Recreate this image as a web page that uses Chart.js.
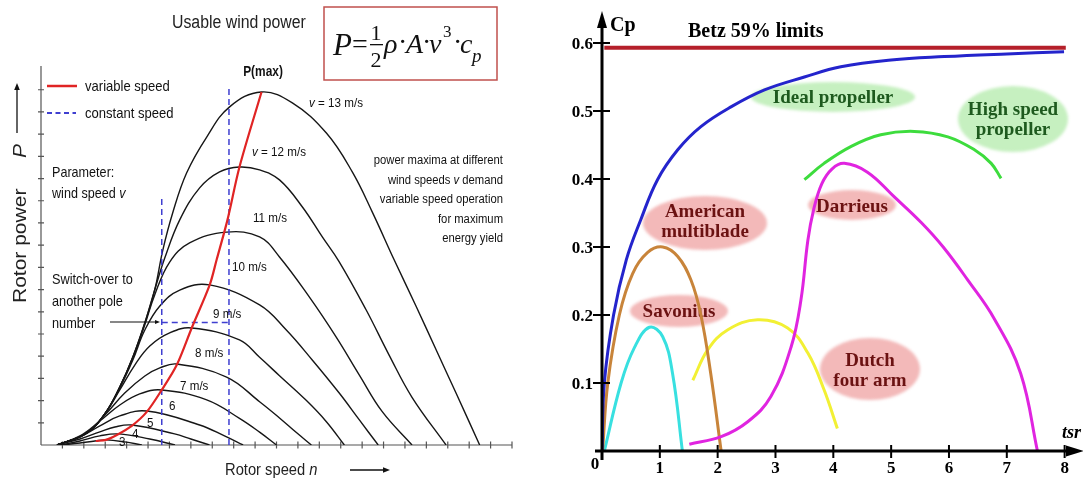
<!DOCTYPE html>
<html>
<head>
<meta charset="utf-8">
<script src="https://cdn.jsdelivr.net/npm/chart.js@4.4.1/dist/chart.umd.min.js"></script>
<style>
  body { margin: 0; background: #fff; }
  canvas { position: absolute; top: 0; }
  #rotorChart { left: 0; }
  #cpChart { left: 550px; }
</style>
</head>
<body>
<canvas id="rotorChart" width="550" height="482"></canvas>
<canvas id="cpChart" width="533" height="482"></canvas>
<script>
// ---- left chart: rotor power vs rotor speed (axis units = tick steps) ----
const rotorSpeedTicks = [1, 2, 3, 4, 5, 6, 7, 8, 9, 10, 11, 12, 13, 14, 15, 16, 17, 18, 19, 20, 21, 22]
const rotorPowerTicks = [1, 2, 3, 4, 5, 6, 7, 8, 9, 10, 11, 12, 13, 14, 15, 16]
const windSpeeds = ["3", "4", "5", "6", "7 m/s", "8 m/s", "9 m/s", "10 m/s", "11 m/s", "12 m/s", "13 m/s"]

const powerV3 = [[0.98, 0], [1.82, 0.09], [2.52, 0.18], [3.03, 0.23], [3.91, 0.14], [4.71, 0]]
const powerV4 = [[0.89, 0], [1.82, 0.18], [2.75, 0.41], [3.63, 0.5], [5.08, 0.27], [6.26, 0]]
const powerV5 = [[0.75, 0], [1.82, 0.27], [2.75, 0.59], [3.45, 0.81], [4.24, 0.9], [6.24, 0.5], [7.0, 0.27], [7.87, 0]]
const powerV6 = [[0.75, 0], [1.82, 0.36], [2.75, 0.86], [3.68, 1.31], [4.94, 1.53], [7.41, 0.9], [8.57, 0.41], [9.44, 0]]
const powerV7 = [[0.75, 0], [1.82, 0.41], [2.75, 1.08], [3.68, 1.8], [4.61, 2.3], [5.64, 2.48], [7.74, 2.03], [9.27, 1.2], [10.21, 0.58], [11.0, 0]]
const powerV8 = [[0.75, 0], [2.05, 0.5], [2.98, 1.35], [3.91, 2.34], [4.85, 3.11], [5.55, 3.47], [6.34, 3.65], [8.67, 3.06], [10.21, 1.95], [11.14, 1.22], [11.93, 0.56], [12.63, 0]]
const powerV9 = [[0.75, 0], [2.14, 0.54], [2.98, 1.4], [3.68, 2.48], [4.38, 3.6], [5.08, 4.46], [6.01, 5.05], [7.04, 5.27], [9.27, 4.73], [10.21, 3.95], [11.14, 3.12], [12.4, 2.0], [13.33, 1.05], [14.17, 0]]
const powerV10 = [[0.75, 0], [2.14, 0.54], [2.98, 1.4], [3.68, 2.57], [4.29, 3.83], [4.85, 5.18], [5.55, 6.26], [6.48, 6.98], [7.88, 7.21], [10.21, 6.31], [11.46, 5.18], [12.67, 3.83], [13.93, 2.34], [14.87, 1.13], [15.75, 0]]
const powerV11 = [[0.75, 0], [2.14, 0.54], [2.98, 1.4], [3.68, 2.61], [4.29, 3.92], [4.85, 5.41], [5.31, 6.76], [6.01, 8.24], [6.94, 9.1], [8.67, 9.59], [10.21, 9.37], [11.14, 8.47], [12.53, 6.67], [13.79, 4.86], [14.87, 3.15], [15.94, 1.5], [17.33, 0]]
const powerV12 = [[0.75, 0], [2.14, 0.54], [2.98, 1.4], [3.68, 2.61], [4.29, 3.96], [4.85, 5.5], [5.31, 6.98], [5.78, 8.42], [6.48, 10.14], [7.41, 11.58], [8.34, 12.3], [9.27, 12.52], [10.21, 12.39], [11.14, 11.94], [12.21, 10.72], [13.14, 9.37], [13.93, 8.25], [15.19, 6.08], [16.26, 4.05], [17.33, 2.15], [18.92, 0]]
const powerV13 = [[0.75, 0], [2.14, 0.54], [2.98, 1.4], [3.68, 2.61], [4.29, 3.96], [4.85, 5.5], [5.31, 6.98], [5.69, 8.78], [6.15, 10.45], [6.8, 12.25], [7.74, 13.87], [8.81, 15.23], [10.3, 15.9], [11.74, 15.41], [13.33, 14.05], [14.54, 12.3], [15.47, 10.5], [16.5, 8.33], [17.52, 6.25], [18.45, 4.3], [19.38, 2.35], [20.49, 0]]

const variableSpeed = [[2.56, 0.18], [3.03, 0.23], [3.54, 0.45], [4.24, 0.86], [4.94, 1.49], [5.64, 2.48], [6.34, 3.6], [7.04, 5.27], [7.88, 7.21], [8.2, 8.33], [8.71, 10.14], [9.27, 12.52], [10.3, 15.9]]
const constantSpeedHigh = [[8.78, 0], [8.78, 16.13]]
const constantSpeedLow = [[5.64, 0], [5.64, 11.26]]
const poleSwitch = [[5.64, 5.52], [8.78, 5.52]]

// ---- right chart: power coefficient vs tip speed ratio ----
const tsrTicks = [1, 2, 3, 4, 5, 6, 7, 8]
const cpTicks = [0.1, 0.2, 0.3, 0.4, 0.5, 0.6]
const betzLimit = [[0.04, 0.593], [8.02, 0.593]]
const idealPropeller = [[0, 0], [0.04, 0.1], [0.2, 0.2], [0.42, 0.281], [0.67, 0.34], [0.96, 0.399], [1.31, 0.443], [1.71, 0.477], [2.23, 0.506], [2.81, 0.531], [3.5, 0.55], [4.13, 0.565], [5.0, 0.575], [5.92, 0.58], [7.0, 0.584], [7.99, 0.587]]
const highSpeedPropeller = [[3.5, 0.399], [3.84, 0.423], [4.31, 0.448], [4.82, 0.465], [5.4, 0.47], [5.98, 0.462], [6.44, 0.443], [6.73, 0.423], [6.9, 0.401]]
const darrieus = [[1.51, 0.01], [2.06, 0.021], [2.52, 0.043], [2.92, 0.08], [3.27, 0.153], [3.44, 0.222], [3.56, 0.31], [3.66, 0.355], [3.8, 0.393], [3.98, 0.415], [4.19, 0.423], [4.59, 0.41], [5.05, 0.374], [5.52, 0.336], [5.9, 0.3], [6.32, 0.252], [6.78, 0.195], [7.24, 0.114], [7.53, 0]]
const americanMultiblade = [[0.01, 0], [0.1, 0.1], [0.3, 0.2], [0.53, 0.261], [0.79, 0.292], [1.05, 0.3], [1.31, 0.286], [1.54, 0.251], [1.71, 0.2], [1.88, 0.114], [2.06, 0]]
const savonius = [[0.04, 0], [0.33, 0.1], [0.56, 0.152], [0.82, 0.182], [1.05, 0.168], [1.22, 0.114], [1.39, 0]]
const dutchFourArm = [[1.57, 0.104], [1.83, 0.149], [2.17, 0.178], [2.69, 0.193], [3.21, 0.181], [3.56, 0.144], [3.84, 0.09], [4.07, 0.033]]

const SANS = "'Liberation Sans', Arial, sans-serif"
const SERIF = "'Liberation Serif', 'Times New Roman', serif"

function line(points, color, width, extra) {
  return Object.assign({
    data: points.map(p => ({ x: p[0], y: p[1] })),
    borderColor: color,
    borderWidth: width,
    pointRadius: 0,
    fill: false,
    tension: 0.4
  }, extra || {})
}

// parts: string or list of [text, italic]
function text(ctx, parts, x, y, size, opts) {
  opts = opts || {}
  const sx = opts.sx || 1
  const family = opts.family || SANS
  const weight = opts.bold ? "bold " : ""
  if (typeof parts === "string") parts = [[parts, false]]
  const fontOf = it => (it ? "italic " : "") + weight + size + "px " + family
  ctx.save()
  ctx.fillStyle = opts.color || "#111"
  ctx.textBaseline = "alphabetic"
  ctx.textAlign = "left"
  let total = 0
  parts.forEach(([t, it]) => { ctx.font = fontOf(it); total += ctx.measureText(t).width })
  let start = x
  if (opts.align === "right") start = x - total * sx
  if (opts.align === "center") start = x - total * sx / 2
  ctx.translate(start, y)
  ctx.scale(sx, 1)
  let off = 0
  parts.forEach(([t, it]) => {
    ctx.font = fontOf(it)
    ctx.fillText(t, off, 0)
    off += ctx.measureText(t).width
  })
  ctx.restore()
}

function arrow(ctx, x1, y1, x2, y2, head, width, color) {
  const a = Math.atan2(y2 - y1, x2 - x1)
  ctx.save()
  ctx.strokeStyle = color
  ctx.fillStyle = color
  ctx.lineWidth = width
  ctx.beginPath()
  ctx.moveTo(x1, y1)
  ctx.lineTo(x2 - Math.cos(a) * head * 0.8, y2 - Math.sin(a) * head * 0.8)
  ctx.stroke()
  ctx.beginPath()
  ctx.moveTo(x2, y2)
  ctx.lineTo(x2 - head * Math.cos(a) + head * 0.4 * Math.sin(a), y2 - head * Math.sin(a) - head * 0.4 * Math.cos(a))
  ctx.lineTo(x2 - head * Math.cos(a) - head * 0.4 * Math.sin(a), y2 - head * Math.sin(a) + head * 0.4 * Math.cos(a))
  ctx.closePath()
  ctx.fill()
  ctx.restore()
}

const rotorDecor = {
  id: "rotorDecor",
  beforeDatasetsDraw(chart) {
    const { ctx, scales: { x, y }, chartArea } = chart
    const x0 = x.getPixelForValue(0)
    const y0 = y.getPixelForValue(0)
    ctx.save()
    ctx.strokeStyle = "#555"
    ctx.lineWidth = 1.2
    ctx.beginPath()
    ctx.moveTo(x0, y0)
    ctx.lineTo(x0, chartArea.top)
    ctx.moveTo(x0, y0)
    ctx.lineTo(chartArea.right, y0)
    rotorPowerTicks.forEach(v => {
      const py = y.getPixelForValue(v)
      ctx.moveTo(x0 - 3, py)
      ctx.lineTo(x0 + 3, py)
    })
    rotorSpeedTicks.forEach(v => {
      const px = x.getPixelForValue(v)
      ctx.moveTo(px, y0 - 3.5)
      ctx.lineTo(px, y0 + 3.5)
    })
    ctx.stroke()
    ctx.restore()
  },
  afterDatasetsDraw(chart) {
    const { ctx } = chart

    // title and formula
    text(ctx, "Usable wind power", 172, 28, 18, { sx: 0.88, color: "#222" })
    ctx.save()
    ctx.strokeStyle = "#c0504d"
    ctx.lineWidth = 1.5
    ctx.strokeRect(324, 7, 173, 73)
    ctx.restore()
    text(ctx, [["P", true]], 333, 55, 31, { family: SERIF })
    text(ctx, "=", 352, 53, 28, { family: SERIF })
    text(ctx, "1", 376, 40, 22, { family: SERIF, align: "center" })
    ctx.save()
    ctx.fillStyle = "#111"
    ctx.fillRect(370, 44, 13, 1.3)
    ctx.restore()
    text(ctx, "2", 376, 67, 22, { family: SERIF, align: "center" })
    text(ctx, [["ρ", true]], 384, 53, 28, { family: SERIF })
    text(ctx, "·", 398, 51, 28, { family: SERIF })
    text(ctx, [["A", true]], 406, 53, 28, { family: SERIF })
    text(ctx, "·", 422, 51, 28, { family: SERIF })
    text(ctx, [["v", true]], 429, 53, 28, { family: SERIF })
    text(ctx, "3", 443, 37, 17, { family: SERIF })
    text(ctx, "·", 453, 51, 28, { family: SERIF })
    text(ctx, [["c", true]], 460, 53, 28, { family: SERIF })
    text(ctx, [["p", true]], 472, 62, 19, { family: SERIF })

    text(ctx, "P(max)", 263, 76, 14, { sx: 0.85, bold: true, align: "center" })

    // legend
    ctx.save()
    ctx.lineWidth = 2.5
    ctx.strokeStyle = "#e02424"
    ctx.beginPath()
    ctx.moveTo(47, 86)
    ctx.lineTo(77, 86)
    ctx.stroke()
    ctx.lineWidth = 1.8
    ctx.strokeStyle = "#3f3fd0"
    ctx.setLineDash([5, 3.5])
    ctx.beginPath()
    ctx.moveTo(47, 113)
    ctx.lineTo(76, 113)
    ctx.stroke()
    ctx.restore()
    text(ctx, "variable speed", 85, 91, 15, { sx: 0.87 })
    text(ctx, "constant speed", 85, 118, 15, { sx: 0.87 })

    text(ctx, "Parameter:", 52, 177, 15, { sx: 0.84 })
    text(ctx, [["wind speed ", false], ["v", true]], 52, 198, 15, { sx: 0.84 })

    text(ctx, "Switch-over to", 52, 284, 15, { sx: 0.85 })
    text(ctx, "another pole", 52, 306, 15, { sx: 0.85 })
    text(ctx, "number", 52, 328, 15, { sx: 0.85 })
    arrow(ctx, 110, 322, 160, 322, 5, 1.2, "#111")

    const note = [["power maxima at different"], ["wind speeds ", "v", " demand"], ["variable speed operation"], ["for maximum"], ["energy yield"]]
    note.forEach((row, i) => {
      const parts = row.map(t => [t, t === "v"])
      text(ctx, parts, 503, 164 + i * 19.5, 12.5, { sx: 0.9, align: "right" })
    })

    // wind speed labels on the curves
    const labelAt = [[119, 446], [132, 438], [147, 427], [169, 410], [180, 390], [195, 357], [213, 318], [232, 271], [253, 222], [252, 156], [309, 107]]
    windSpeeds.forEach((w, i) => {
      const parts = i >= 9 ? [["v", true], [" = " + w, false]] : [[w, false]]
      text(ctx, parts, labelAt[i][0], labelAt[i][1], 12.5, { sx: 0.93 })
    })

    // axis titles
    ctx.save()
    ctx.translate(26, 303)
    ctx.rotate(-Math.PI / 2)
    ctx.scale(1, 0.9)
    ctx.fillStyle = "#222"
    ctx.font = "21px " + SANS
    ctx.fillText("Rotor power", 0, 0)
    ctx.font = "italic 21px " + SANS
    ctx.fillText("P", 145, 0)
    ctx.restore()
    arrow(ctx, 17, 133, 17, 83, 7, 1.3, "#111")

    text(ctx, [["Rotor speed ", false], ["n", true]], 225, 475, 16, { sx: 0.92, color: "#222" })
    arrow(ctx, 350, 470, 390, 470, 7, 1.3, "#111")
  }
}

const curveData = [powerV3, powerV4, powerV5, powerV6, powerV7, powerV8, powerV9, powerV10, powerV11, powerV12, powerV13]
const rotorDatasets = curveData.map(c => line(c, "#161616", 1.4, { order: 3 }))
rotorDatasets.push(line(constantSpeedHigh, "#3f3fd0", 1.5, { borderDash: [6, 4], tension: 0, order: 2 }))
rotorDatasets.push(line(constantSpeedLow, "#3f3fd0", 1.5, { borderDash: [6, 4], tension: 0, order: 2 }))
rotorDatasets.push(line(poleSwitch, "#3f3fd0", 1.5, { borderDash: [6, 4], tension: 0, order: 2 }))
rotorDatasets.push(line(variableSpeed, "#e02424", 2.2, { order: 1, tension: 0.3 }))

new Chart(document.getElementById("rotorChart"), {
  type: "line",
  data: { datasets: rotorDatasets },
  options: {
    responsive: false,
    animation: false,
    events: [],
    layout: { padding: { left: 41, right: 38, top: 66, bottom: 37 } },
    plugins: { legend: { display: false }, tooltip: { enabled: false } },
    scales: {
      x: { type: "linear", min: 0, max: 22, display: false },
      y: { type: "linear", min: 0, max: 17.07, display: false }
    }
  },
  plugins: [rotorDecor]
})

// ---- right chart ----
const bubbles = [
  { lines: ["Ideal propeller"], cx: 283, cy: 97, rx: 82, ry: 15, base: 103, fill: "#c6f0c0", color: "#1e5a1e" },
  { lines: ["High speed", "propeller"], cx: 463, cy: 119, rx: 55, ry: 33, base: 115, fill: "#c6f0c0", color: "#1e5a1e" },
  { lines: ["American", "multiblade"], cx: 155, cy: 223, rx: 62, ry: 27, base: 217, fill: "#f3b9b9", color: "#6b1212" },
  { lines: ["Darrieus"], cx: 302, cy: 205, rx: 44, ry: 15, base: 212, fill: "#f3b9b9", color: "#6b1212" },
  { lines: ["Savonius"], cx: 129, cy: 311, rx: 49, ry: 16, base: 317, fill: "#f3b9b9", color: "#6b1212" },
  { lines: ["Dutch", "four arm"], cx: 320, cy: 369, rx: 50, ry: 31, base: 366, fill: "#f3b9b9", color: "#6b1212" }
]

const cpDecor = {
  id: "cpDecor",
  beforeDatasetsDraw(chart) {
    const { ctx } = chart
    bubbles.forEach(b => {
      ctx.save()
      ctx.filter = "blur(1.5px)"
      ctx.fillStyle = b.fill
      ctx.beginPath()
      ctx.ellipse(b.cx, b.cy, b.rx, b.ry, 0, 0, Math.PI * 2)
      ctx.fill()
      ctx.restore()
      b.lines.forEach((t, i) => {
        text(ctx, t, b.cx, b.base + i * 20, 19, { family: SERIF, bold: true, align: "center", color: b.color })
      })
    })
  },
  afterDatasetsDraw(chart) {
    const { ctx, scales: { x, y } } = chart
    const x0 = x.getPixelForValue(0)
    const y0 = y.getPixelForValue(0)
    ctx.save()
    ctx.strokeStyle = "#000"
    ctx.fillStyle = "#000"
    ctx.lineWidth = 3
    ctx.beginPath()
    ctx.moveTo(x0, y0 + 9)
    ctx.lineTo(x0, 26)
    ctx.moveTo(x0 - 7, y0)
    ctx.lineTo(518, y0)
    ctx.stroke()
    ctx.beginPath()
    ctx.moveTo(x0, 11)
    ctx.lineTo(x0 - 5, 28)
    ctx.lineTo(x0 + 5, 28)
    ctx.closePath()
    ctx.fill()
    ctx.beginPath()
    ctx.moveTo(534, y0)
    ctx.lineTo(516, y0 - 5.5)
    ctx.lineTo(516, y0 + 5.5)
    ctx.closePath()
    ctx.fill()
    ctx.lineWidth = 2
    ctx.beginPath()
    cpTicks.forEach(v => {
      const py = y.getPixelForValue(v)
      ctx.moveTo(x0 - 9, py)
      ctx.lineTo(x0 + 8, py)
    })
    tsrTicks.forEach(v => {
      const px = x.getPixelForValue(v)
      ctx.moveTo(px, y0 - 6)
      ctx.lineTo(px, y0 + 7)
    })
    ctx.stroke()
    ctx.restore()

    cpTicks.forEach(v => {
      text(ctx, v.toFixed(1), x0 - 9, y.getPixelForValue(v) + 6, 17, { family: SERIF, bold: true, align: "right", color: "#000" })
    })
    tsrTicks.forEach(v => {
      text(ctx, String(v), x.getPixelForValue(v), y0 + 22, 17, { family: SERIF, bold: true, align: "center", color: "#000" })
    })
    text(ctx, "0", x0 - 7, y0 + 18, 17, { family: SERIF, bold: true, align: "center", color: "#000" })
    text(ctx, "Cp", 60, 31, 20, { family: SERIF, bold: true, color: "#000" })
    text(ctx, "Betz 59% limits", 138, 37, 20, { family: SERIF, bold: true, color: "#000" })
    text(ctx, [["tsr", true]], 512, 438, 18, { family: SERIF, bold: true, color: "#000" })
  }
}

new Chart(document.getElementById("cpChart"), {
  type: "line",
  data: {
    datasets: [
      line(betzLimit, "#b5202a", 3.8, { tension: 0 }),
      line(idealPropeller, "#2424cc", 3),
      line(highSpeedPropeller, "#3ddc3d", 3),
      line(darrieus, "#e024e0", 3),
      line(americanMultiblade, "#c8843a", 3),
      line(savonius, "#38e0e0", 3),
      line(dutchFourArm, "#f2f034", 3)
    ]
  },
  options: {
    responsive: false,
    animation: false,
    events: [],
    layout: { padding: { left: 52, right: 2, top: 9, bottom: 31 } },
    plugins: { legend: { display: false }, tooltip: { enabled: false } },
    scales: {
      x: { type: "linear", min: 0, max: 8.283, display: false },
      y: { type: "linear", min: 0, max: 0.65, display: false }
    }
  },
  plugins: [cpDecor]
})
</script>
</body>
</html>
